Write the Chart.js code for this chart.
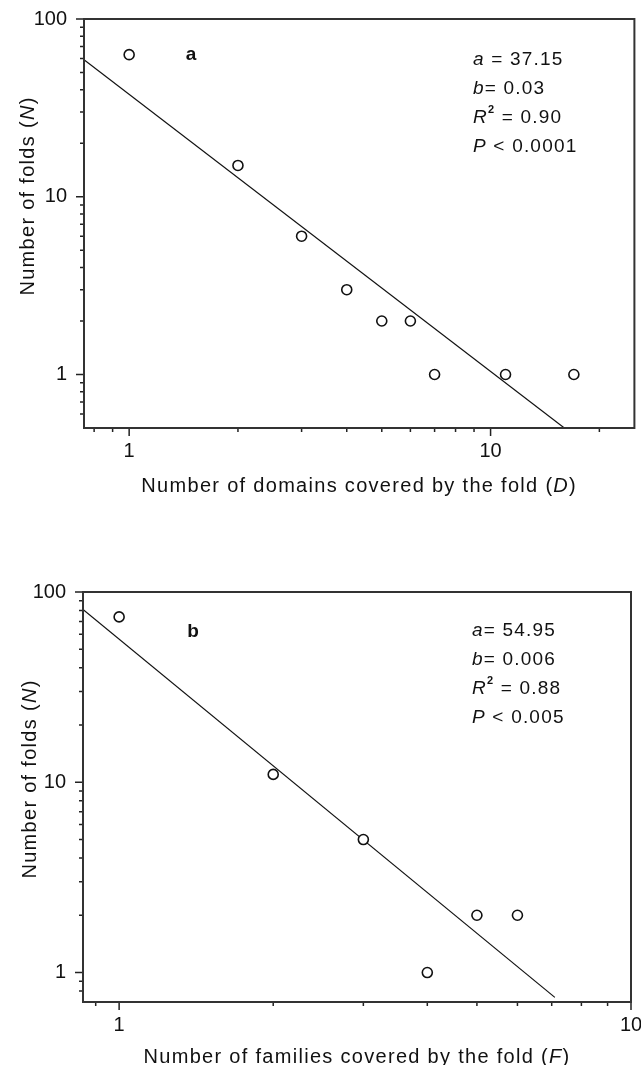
<!DOCTYPE html>
<html lang="en">
<head>
  <meta charset="UTF-8" />
  <title>Folds vs domains / families</title>
  <script src="https://cdn.jsdelivr.net/npm/chart.js"></script>
  <style>
    body { margin: 0; background: #fff; }
    #wrap { position: relative; width: 641px; height: 1065px; }
    canvas { position: absolute; left: 0; }
    #chartA { top: 0; }
    #chartB { top: 530px; }
  </style>
</head>
<body>
  <div id="wrap">
    <canvas id="chartA" width="641" height="530"></canvas>
    <canvas id="chartB" width="641" height="535"></canvas>
  </div>

  <script>
    // panel a: folds vs number of domains covered
    const domainsD = [1, 2, 3, 4, 5, 6, 7, 11, 17];
    const foldsA = [63, 15, 6, 3, 2, 2, 1, 1, 1];
    const fitAx = [0.75, 16];
    const fitAy = [59, 0.5];

    // panel b: folds vs number of families covered
    const familiesF = [1, 2, 3, 4, 5, 6];
    const foldsB = [74, 11, 5, 1, 2, 2];
    const fitBx = [0.85, 7.1];
    const fitBy = [81, 0.74];

    // ticks
    const xTicksA = [0.8, 0.9, 1, 2, 3, 4, 5, 6, 7, 8, 9, 10, 20];
    const yTicksA = [0.6, 0.7, 0.8, 0.9, 1, 2, 3, 4, 5, 6, 7, 8, 9, 10, 20, 30, 40, 50, 60, 70, 80, 90, 100];
    const xTicksB = [0.9, 1, 2, 3, 4, 5, 6, 7, 8, 9, 10];
    const yTicksB = [0.8, 0.9, 1, 2, 3, 4, 5, 6, 7, 8, 9, 10, 20, 30, 40, 50, 60, 70, 80, 90, 100];
    const xLabelsMajor = [1, 10];
    const yLabelsMajor = [1, 10, 100];

    // annotation text
    const statsA = [
      [['a', 'i'], [' = 37.15', '']],
      [['b', 'i'], ['= 0.03', '']],
      [['R', 'i'], ['2', 'sup'], [' = 0.90', '']],
      [['P', 'i'], [' < 0.0001', '']]
    ];
    const statsB = [
      [['a', 'i'], ['= 54.95', '']],
      [['b', 'i'], ['= 0.006', '']],
      [['R', 'i'], ['2', 'sup'], [' = 0.88', '']],
      [['P', 'i'], [' < 0.005', '']]
    ];
    const yTitle = [['Number of folds (', ''], ['N', 'i'], [')', '']];
    const xTitleA = [['Number of domains covered by the fold (', ''], ['D', 'i'], [')', '']];
    const xTitleB = [['Number of families covered by the fold (', ''], ['F', 'i'], [')', '']];

    const FACE = '"Liberation Sans", Arial, sans-serif';
    const INK = '#111';

    function fontFor(style, size) {
      if (style === 'i') return `italic ${size}px ${FACE}`;
      if (style === 'b') return `bold ${size}px ${FACE}`;
      if (style === 'sup') return `bold ${Math.round(size * 0.6)}px ${FACE}`;
      return `${size}px ${FACE}`;
    }

    function drawRich(ctx, parts, x, y, size, align, spacing) {
      ctx.letterSpacing = spacing + 'px';
      let w = 0;
      for (const [t, s] of parts) {
        ctx.font = fontFor(s, size);
        w += ctx.measureText(t).width;
      }
      let cx = align === 'center' ? x - w / 2 : x;
      ctx.textAlign = 'left';
      ctx.textBaseline = 'middle';
      for (const [t, s] of parts) {
        ctx.font = fontFor(s, size);
        ctx.fillText(t, cx, s === 'sup' ? y - size * 0.4 : y);
        cx += ctx.measureText(t).width;
      }
      ctx.letterSpacing = '0px';
    }

    // box around plot + outward tick marks (long for decades, short otherwise)
    const frameTicks = {
      id: 'frameTicks',
      afterDatasetsDraw(chart) {
        const ctx = chart.ctx, a = chart.chartArea;
        const xs = chart.scales.x, ys = chart.scales.y;
        ctx.save();
        ctx.strokeStyle = '#222';
        ctx.lineWidth = 1.5;
        ctx.beginPath();
        xs.ticks.forEach(t => {
          const px = xs.getPixelForValue(t.value);
          const len = xLabelsMajor.includes(t.value) ? 8 : 4;
          ctx.moveTo(px, a.bottom);
          ctx.lineTo(px, a.bottom + len);
        });
        ys.ticks.forEach(t => {
          const py = ys.getPixelForValue(t.value);
          const len = yLabelsMajor.includes(t.value) ? 8 : 4;
          ctx.moveTo(a.left, py);
          ctx.lineTo(a.left - len, py);
        });
        ctx.stroke();
        ctx.strokeStyle = '#333';
        ctx.lineWidth = 2;
        ctx.strokeRect(a.left, a.top, a.right - a.left, a.bottom - a.top);
        ctx.restore();
      }
    };

    const notes = {
      id: 'notes',
      afterDraw(chart, args, o) {
        const ctx = chart.ctx;
        ctx.save();
        ctx.fillStyle = INK;
        // panel letter
        ctx.font = `bold 19px ${FACE}`;
        ctx.textAlign = 'center';
        ctx.textBaseline = 'middle';
        ctx.fillText(o.panel, o.panelX, o.panelY);
        // fit statistics
        o.stats.forEach((line, i) => {
          drawRich(ctx, line, o.statsX, o.statsY + i * o.statsStep, 19, 'left', 1.2);
        });
        // axis titles
        drawRich(ctx, o.xTitle, (chart.chartArea.left + chart.chartArea.right) / 2, o.xTitleY, 20, 'center', 1.3);
        ctx.translate(o.yTitleX, o.yTitleY);
        ctx.rotate(-Math.PI / 2);
        drawRich(ctx, yTitle, 0, 0, 20, 'center', 1.3);
        ctx.restore();
      }
    };

    function makeChart(id, cfg) {
      const pts = cfg.xs.map((x, i) => ({ x, y: cfg.ys[i] }));
      const fit = cfg.fx.map((x, i) => ({ x, y: cfg.fy[i] }));
      return new Chart(document.getElementById(id), {
        type: 'scatter',
        data: {
          datasets: [
            {
              label: 'fit',
              data: fit,
              showLine: true,
              borderColor: '#111',
              borderWidth: 1.2,
              pointRadius: 0,
              order: 2
            },
            {
              label: 'folds',
              data: pts,
              pointStyle: 'circle',
              pointRadius: 5,
              borderWidth: 1.6,
              borderColor: '#111',
              backgroundColor: '#fff',
              order: 1
            }
          ]
        },
        options: {
          responsive: false,
          animation: false,
          devicePixelRatio: 1,
          layout: { padding: { top: cfg.top, right: cfg.right, left: 0, bottom: 0 } },
          plugins: {
            legend: { display: false },
            tooltip: { enabled: false },
            notes: cfg.notes
          },
          scales: {
            x: {
              type: 'logarithmic',
              min: cfg.xMin,
              max: cfg.xMax,
              grid: { display: false, drawTicks: false },
              border: { display: false },
              afterBuildTicks: s => { s.ticks = cfg.xTicks.map(v => ({ value: v })); },
              afterFit: s => {
                s.height = cfg.xAxisH;
                s.paddingLeft = 0; s.paddingRight = 0;
              },
              ticks: {
                autoSkip: false,
                maxRotation: 0,
                padding: 11,
                color: INK,
                font: { family: FACE, size: 20 },
                callback: v => xLabelsMajor.includes(v) ? String(v) : ''
              }
            },
            y: {
              type: 'logarithmic',
              min: cfg.yMin,
              max: 100,
              grid: { display: false, drawTicks: false },
              border: { display: false },
              afterBuildTicks: s => { s.ticks = cfg.yTicks.map(v => ({ value: v })); },
              afterFit: s => {
                s.width = cfg.yAxisW;
                s.paddingTop = 0; s.paddingBottom = 0;
              },
              ticks: {
                autoSkip: false,
                padding: 17,
                color: INK,
                font: { family: FACE, size: 20 },
                callback: v => yLabelsMajor.includes(v) ? String(v) : ''
              }
            }
          }
        },
        plugins: [frameTicks, notes]
      });
    }

    makeChart('chartA', {
      xs: domainsD, ys: foldsA, fx: fitAx, fy: fitAy,
      xTicks: xTicksA, yTicks: yTicksA,
      xMin: 0.75, xMax: 25, yMin: 0.5,
      top: 19, right: 6, xAxisH: 102, yAxisW: 84,
      notes: {
        panel: 'a', panelX: 191, panelY: 55,
        stats: statsA, statsX: 473, statsY: 60, statsStep: 29,
        xTitle: xTitleA, xTitleY: 486,
        yTitleX: 28, yTitleY: 196
      }
    });

    makeChart('chartB', {
      xs: familiesF, ys: foldsB, fx: fitBx, fy: fitBy,
      xTicks: xTicksB, yTicks: yTicksB,
      xMin: 0.85, xMax: 10, yMin: 0.74,
      top: 62, right: 10, xAxisH: 63, yAxisW: 83,
      notes: {
        panel: 'b', panelX: 193, panelY: 102,
        stats: statsB, statsX: 472, statsY: 101, statsStep: 29,
        xTitle: xTitleB, xTitleY: 527,
        yTitleX: 30, yTitleY: 249
      }
    });
  </script>
</body>
</html>
